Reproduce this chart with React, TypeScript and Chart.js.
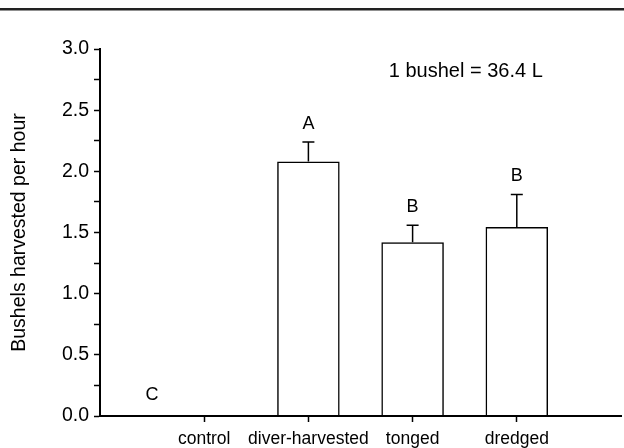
import React, { useEffect, useRef } from 'react';
import { Chart, registerables } from 'chart.js';

Chart.register(...registerables);

const categories = ['control', 'diver-harvested', 'tonged', 'dredged'];
const categoryPositions = [0, 1, 2, 3];
const meanValues = [0, 2.08, 1.42, 1.545];
const errorValues = [0, 0.16, 0.14, 0.265];
const letterLabels = ['C', 'A', 'B', 'B'];
const letterX = [-0.5, 1, 2, 3];
const letterY = [0.17, 2.39, 1.71, 1.965];
const yTickLabels = ['0.0', '0.5', '1.0', '1.5', '2.0', '2.5', '3.0'];
const noteText = '1 bushel = 36.4 L';
const noteX = 2.51;
const noteY = 2.82;
const yTitle = 'Bushels harvested per hour';

const FAMILY = '"Liberation Sans", Arial, Helvetica, sans-serif';

const overlayPlugin = {
  id: 'overlay',
  afterDatasetsDraw(chart: any) {
    const { ctx } = chart;
    const x = chart.scales.x;
    const y = chart.scales.y;
    ctx.save();
    ctx.strokeStyle = '#000';
    ctx.lineWidth = 1.5;
    meanValues.forEach((v, i) => {
      const e = errorValues[i];
      if (!e) return;
      const px = x.getPixelForValue(categoryPositions[i]);
      const top = y.getPixelForValue(v + e);
      const base = y.getPixelForValue(v);
      ctx.beginPath();
      ctx.moveTo(px, base);
      ctx.lineTo(px, top);
      ctx.moveTo(px - 6, top);
      ctx.lineTo(px + 6, top);
      ctx.stroke();
    });
    ctx.fillStyle = '#000';
    ctx.textAlign = 'center';
    ctx.textBaseline = 'middle';
    ctx.font = `18px ${FAMILY}`;
    letterLabels.forEach((t, i) => {
      ctx.fillText(t, x.getPixelForValue(letterX[i]), y.getPixelForValue(letterY[i]));
    });
    ctx.font = `20px ${FAMILY}`;
    ctx.fillText(noteText, x.getPixelForValue(noteX), y.getPixelForValue(noteY));
    ctx.fillStyle = '#222';
    ctx.fillRect(0, 8, chart.width, 2.5);
    ctx.restore();
  },
};

export default function App() {
  const ref = useRef<HTMLCanvasElement>(null);
  useEffect(() => {
    if (!ref.current) return;
    const chart = new Chart(ref.current, {
      type: 'bar',
      data: {
        datasets: [
          {
            data: meanValues.map((v, i) => ({ x: categoryPositions[i], y: v })),
            backgroundColor: 'rgba(255,255,255,0)',
            borderColor: '#000',
            borderWidth: 1.5,
            barPercentage: 0.75,
            categoryPercentage: 0.8,
          },
        ],
      },
      options: {
        animation: false,
        responsive: false,
        maintainAspectRatio: false,
        layout: { padding: { top: 49, right: 3, left: 0, bottom: 0 } },
        plugins: { legend: { display: false }, tooltip: { enabled: false } },
        scales: {
          x: {
            type: 'linear',
            min: -1,
            max: 4,
            offset: false,
            afterBuildTicks: (s: any) => {
              s.ticks = categoryPositions.map((v) => ({ value: v }));
            },
            afterFit: (s: any) => {
              s.height = 32;
            },
            ticks: {
              autoSkip: false,
              maxRotation: 0,
              padding: 7,
              color: '#000',
              font: { size: 17.5, family: FAMILY },
              callback: (v: any) => {
                const idx = categoryPositions.indexOf(Number(v));
                return idx >= 0 ? categories[idx] : '';
              },
            },
            grid: {
              display: true,
              offset: false,
              drawOnChartArea: false,
              drawTicks: true,
              tickLength: 6,
              tickWidth: 1.5,
              tickColor: '#000',
            },
            border: { display: true, color: '#000', width: 2 },
          },
          y: {
            min: 0,
            max: 3,
            afterFit: (s: any) => {
              s.width = 100;
            },
            ticks: {
              stepSize: 0.25,
              padding: 5,
              color: '#000',
              font: { size: 19.5, family: FAMILY },
              callback: (v: any) => {
                const k = Number(v) * 2;
                return Math.abs(k - Math.round(k)) < 1e-6 ? yTickLabels[Math.round(k)] : '';
              },
            },
            grid: {
              display: true,
              drawOnChartArea: false,
              drawTicks: true,
              tickLength: 6,
              tickWidth: 1.5,
              tickColor: '#000',
            },
            border: { display: true, color: '#000', width: 2 },
            title: {
              display: true,
              text: yTitle,
              color: '#000',
              font: { size: 19.5, family: FAMILY },
              padding: { top: 8, bottom: 0 },
            },
          },
        },
      },
      plugins: [overlayPlugin],
    });
    return () => chart.destroy();
  }, []);
  return (
    <div style={{ position: 'absolute', left: 0, top: 0, width: 624, height: 448, background: '#fff' }}>
      <canvas ref={ref} width={624} height={448} />
    </div>
  );
}
